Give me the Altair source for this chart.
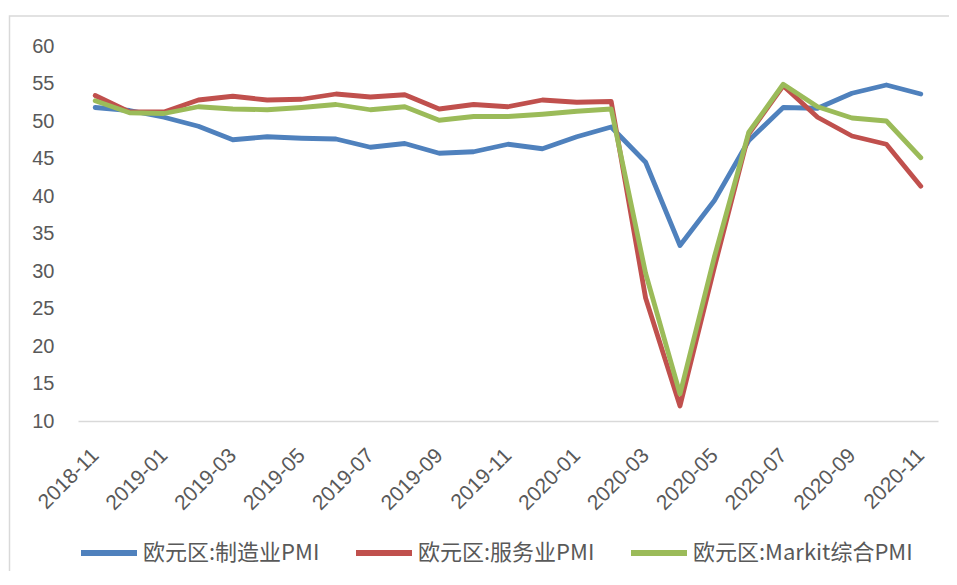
import altair as alt
import pandas as pd

months = ["2018-11", "2018-12", "2019-01", "2019-02", "2019-03", "2019-04", "2019-05",
          "2019-06", "2019-07", "2019-08", "2019-09", "2019-10", "2019-11", "2019-12",
          "2020-01", "2020-02", "2020-03", "2020-04", "2020-05", "2020-06", "2020-07",
          "2020-08", "2020-09", "2020-10", "2020-11"]
tick_labels = ["2018-11", "2019-01", "2019-03", "2019-05", "2019-07", "2019-09", "2019-11",
               "2020-01", "2020-03", "2020-05", "2020-07", "2020-09", "2020-11"]
y_ticks = [10, 15, 20, 25, 30, 35, 40, 45, 50, 55, 60]

manufacturing = [51.8, 51.4, 50.5, 49.3, 47.5, 47.9, 47.7, 47.6, 46.5, 47.0, 45.7, 45.9, 46.9,
                 46.3, 47.9, 49.2, 44.5, 33.4, 39.4, 47.4, 51.8, 51.7, 53.7, 54.8, 53.6]
services = [53.4, 51.2, 51.2, 52.8, 53.3, 52.8, 52.9, 53.6, 53.2, 53.5, 51.6, 52.2, 51.9,
            52.8, 52.5, 52.6, 26.4, 12.0, 30.5, 48.3, 54.7, 50.5, 48.0, 46.9, 41.3]
composite = [52.7, 51.1, 51.0, 51.9, 51.6, 51.5, 51.8, 52.2, 51.5, 51.9, 50.1, 50.6, 50.6,
             50.9, 51.3, 51.6, 29.7, 13.6, 31.9, 48.5, 54.9, 51.9, 50.4, 50.0, 45.1]

series_names = ["欧元区:制造业PMI", "欧元区:服务业PMI", "欧元区:Markit综合PMI"]
colors = ["#4F81BD", "#C0504D", "#9BBB59"]

rows = []
for name, vals in zip(series_names, [manufacturing, services, composite]):
    for m, v in zip(months, vals):
        rows.append({"month": m, "value": v, "series": name})
df = pd.DataFrame(rows)

x_enc = alt.X("month:O", sort=months,
              scale=alt.Scale(type="point", padding=0.5),
              axis=alt.Axis(values=tick_labels, labelAngle=-45, labelAlign="right",
                            labelBaseline="middle", labelPadding=31, ticks=False, grid=False,
                            domainColor="#d9d9d9", domainWidth=1.5, title=None,
                            labelFont="Liberation Sans", labelFontSize=21,
                            labelColor="#595959", labelOverlap=False))
y_enc = alt.Y("value:Q", scale=alt.Scale(domain=[10, 60], nice=False, zero=False),
              axis=alt.Axis(values=y_ticks, domain=False, ticks=False, grid=False, title=None,
                            labelPadding=24, labelFont="Liberation Sans", labelFontSize=20,
                            labelColor="#595959"))
color_enc = alt.Color("series:N",
                      scale=alt.Scale(domain=series_names, range=colors),
                      legend=alt.Legend(orient="none", legendX=0, legendY=476,
                                        direction="horizontal", title=None,
                                        symbolType="stroke", symbolSize=3136,
                                        symbolStrokeWidth=6, labelFontSize=22,
                                        labelFont="Noto Sans CJK SC", labelColor="#595959",
                                        labelLimit=400,
                                        columnPadding=24, labelOffset=3, padding=0))

border = alt.Chart(pd.DataFrame({"a": [0]})).mark_rect(
    filled=False, stroke="#d9d9d9", strokeWidth=1.5
).encode(x=alt.value(-68.5), x2=alt.value(900), y=alt.value(-30), y2=alt.value(560))

layers = [border]
for name in series_names:
    layers.append(
        alt.Chart(df[df["series"] == name]).mark_line(
            strokeWidth=4.8, strokeJoin="round", strokeCap="round"
        ).encode(x=x_enc, y=y_enc, color=color_enc)
    )

chart = alt.layer(*layers).properties(
    width=860, height=375,
    autosize=alt.AutoSizeParams(type="none"),
    padding={"left": 70, "top": 38, "right": 11, "bottom": 150},
    background="white",
).configure_view(stroke=None)

chart.save("out.html", embed_options={"renderer": "svg", "actions": False})
